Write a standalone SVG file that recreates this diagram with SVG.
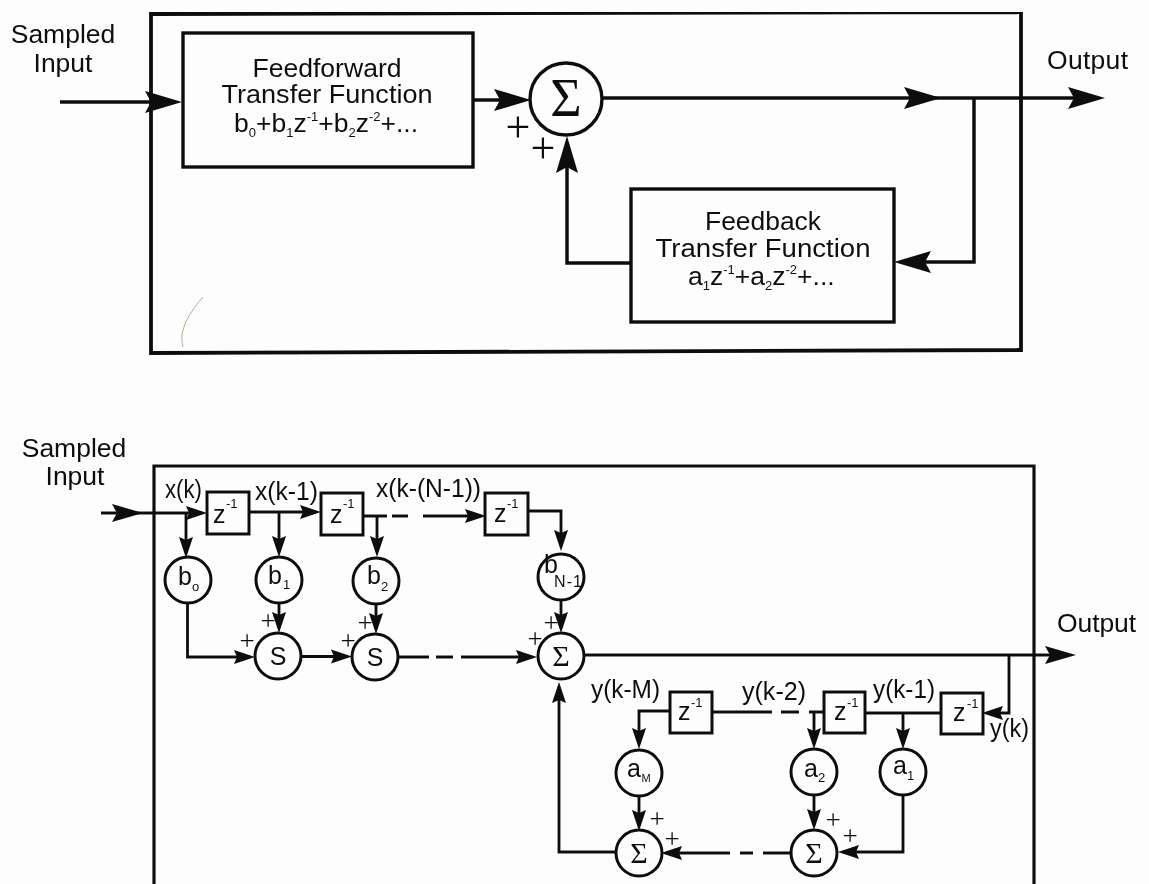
<svg xmlns="http://www.w3.org/2000/svg" width="1149" height="884" viewBox="0 0 1149 884">
<defs>
<style>
.bg{fill:#fdfdfd}
.t{font-family:"Liberation Sans",Arial,sans-serif;fill:#111}
.l{font-size:26.500px}.h{font-size:25px}.m{font-size:25px}.s{font-size:13px}.z{font-size:25px}.sup{font-size:13px}
.p{font-size:44px;font-family:"Liberation Serif","Times New Roman",serif}
.ps{font-size:27px;font-family:"Liberation Serif","Times New Roman",serif}
.sg{font-family:"Liberation Serif","Times New Roman",serif;fill:#111}
.c{text-anchor:middle}
.hb{fill:none;stroke:#111;stroke-width:3.800}
.nb{fill:#fdfdfd;stroke:#111;stroke-width:3.400}
.n2{fill:#fdfdfd;stroke:#111;stroke-width:3}
.w{fill:none;stroke:#111;stroke-width:3.500;stroke-linejoin:miter}
.w2{fill:none;stroke:#111;stroke-width:2.800;stroke-linejoin:miter}
.ah{fill:#0c0c0c}
</style>
<filter id="soft" x="0" y="0" width="100%" height="100%"><feGaussianBlur stdDeviation="0.450"/></filter>
<marker id="aL" markerUnits="userSpaceOnUse" markerWidth="38" markerHeight="24" viewBox="0 0 38 24" refX="30" refY="12" orient="auto"><path class="ah" d="M0,1 L37,12 L0,23 L6,12Z"/></marker>
<marker id="aB" markerUnits="userSpaceOnUse" markerWidth="32" markerHeight="20" viewBox="0 0 32 20" refX="24" refY="10" orient="auto"><path class="ah" d="M0,1 L31,10 L0,19 L5,10Z"/></marker>
<marker id="aM" markerUnits="userSpaceOnUse" markerWidth="23" markerHeight="16" viewBox="0 0 23 16" refX="16" refY="8" orient="auto"><path class="ah" d="M0,1 L21,8 L0,15 L3,8Z"/></marker>
</defs>
<rect class="bg" width="1149" height="884"/>
<g filter="url(#soft)">
<path d="M203,297 C190,312 178,330 183,347" fill="none" stroke="#b5a98a" stroke-width="1"/>

<g id="connectors">
<path class="hb" d="M151,14 L1021,12 L1021,350 L151,353Z"/>
<path class="w" d="M60,102 H175" marker-end="url(#aL)"/>
<path class="w" d="M473,100 H524" marker-end="url(#aL)"/>
<path class="w" d="M602,98 H934" marker-end="url(#aL)"/>
<path class="w" d="M925,98 H1098" marker-end="url(#aL)"/>
<path class="w" d="M974,98 V262 H901" marker-end="url(#aL)"/>
<path class="w" d="M631,263 H567 V143" marker-end="url(#aL)"/>

<path class="hb" style="stroke-width:3.200" d="M154,884 V466 H1034 V884"/>
<path class="w2" d="M101,513 H136" marker-end="url(#aB)"/>
<path class="w2" d="M130,513 H202" marker-end="url(#aM)"/>
<path class="w2" d="M249,512 H316" marker-end="url(#aM)"/>
<path class="w2" d="M363,516 H387 M392,516 H408 M423,516 H481" marker-end="url(#aM)"/>
<path class="w2" d="M528,511 H561 V546" marker-end="url(#aM)"/>
<path class="w2" d="M186,513 V553" marker-end="url(#aM)"/>
<path class="w2" d="M279,512 V552" marker-end="url(#aM)"/>
<path class="w2" d="M377,516 V552" marker-end="url(#aM)"/>
<path class="w2" d="M187.500,603 V657 H250" marker-end="url(#aM)"/>
<path class="w2" d="M279,603 V628" marker-end="url(#aM)"/>
<path class="w2" d="M376,604 V629" marker-end="url(#aM)"/>
<path class="w2" d="M561,600 V628" marker-end="url(#aM)"/>
<path class="w2" d="M301,656.500 H347" marker-end="url(#aM)"/>
<path class="w2" d="M398,657 H429 M436,657 H453 M461,657 H532" marker-end="url(#aM)"/>
<path class="w2" d="M584,655 H1069" marker-end="url(#aB)"/>
<path class="w2" d="M1009,655 V713 H987" marker-end="url(#aM)"/>
<path class="w2" d="M941,713 H865"/>
<path class="w2" d="M903,713 V744" marker-end="url(#aM)"/>
<path class="w2" d="M824,712 H809 M799,712 H781 M772,712 H712"/>
<path class="w2" d="M814,712 V744" marker-end="url(#aM)"/>
<path class="w2" d="M670,711 H639 V744" marker-end="url(#aM)"/>
<path class="w2" d="M639,796 V826" marker-end="url(#aM)"/>
<path class="w2" d="M814,795 V825" marker-end="url(#aM)"/>
<path class="w2" d="M903,794 V852 H843" marker-end="url(#aM)"/>
<path class="w2" d="M792,853 H763 M753,853 H740 M730,853 H666" marker-end="url(#aM)"/>
<path class="w2" d="M616,852 H559 V687" marker-end="url(#aM)"/>
</g>

<g id="node-feedforward">
<rect class="nb" x="183" y="33" width="290" height="134"/>
<text class="t h c" x="327" y="77" textLength="149" lengthAdjust="spacingAndGlyphs">Feedforward</text>
<text class="t h c" x="327" y="103" textLength="211" lengthAdjust="spacingAndGlyphs">Transfer Function</text>
<text class="t l" x="234" y="132">b<tspan class="s" dy="5">0</tspan><tspan dy="-5">+b</tspan><tspan class="s" dy="5">1</tspan><tspan dy="-5">z</tspan><tspan class="sup" dy="-11">-1</tspan><tspan dy="11">+b</tspan><tspan class="s" dy="5">2</tspan><tspan dy="-5">z</tspan><tspan class="sup" dy="-11">-2</tspan><tspan dy="11">+...</tspan></text>
</g>
<g id="node-feedback">
<rect class="nb" x="631" y="189" width="263" height="133"/>
<text class="t h c" x="763" y="230" textLength="116" lengthAdjust="spacingAndGlyphs">Feedback</text>
<text class="t h c" x="763" y="257" textLength="215" lengthAdjust="spacingAndGlyphs">Transfer Function</text>
<text class="t l" x="688" y="285">a<tspan class="s" dy="5">1</tspan><tspan dy="-5">z</tspan><tspan class="sup" dy="-11">-1</tspan><tspan dy="11">+a</tspan><tspan class="s" dy="5">2</tspan><tspan dy="-5">z</tspan><tspan class="sup" dy="-11">-2</tspan><tspan dy="11">+...</tspan></text>
</g>
<g id="node-sum-top">
<circle class="nb" cx="566" cy="99" r="36"/>
<text class="sg c" x="566" y="116" font-size="54">Σ</text>
</g>
<g id="labels-top">
<text class="t l c" x="63" y="43">Sampled</text>
<text class="t l c" x="63" y="72">Input</text>
<text class="t l" x="1047" y="69" textLength="81" lengthAdjust="spacing">Output</text>
<text class="t p c" x="518" y="142">+</text>
<text class="t p c" x="543" y="163">+</text>
</g>

<g id="node-z1"><rect class="n2" x="207" y="492" width="42" height="42"/><text class="t z" x="213" y="523">z</text><text class="t sup" x="226" y="508">-1</text></g>
<g id="node-z2"><rect class="n2" x="321" y="493" width="42" height="42"/><text class="t z" x="330" y="523">z</text><text class="t sup" x="343" y="508">-1</text></g>
<g id="node-z3"><rect class="n2" x="485" y="493" width="43" height="42"/><text class="t z" x="494" y="522">z</text><text class="t sup" x="507" y="508">-1</text></g>
<g id="node-b0"><circle class="n2" cx="188" cy="580" r="23"/><text class="t m" x="178" y="585">b</text><text class="t s" x="192" y="591">o</text></g>
<g id="node-b1"><circle class="n2" cx="279" cy="580" r="23"/><text class="t m" x="268" y="584">b</text><text class="t s" x="283" y="589">1</text></g>
<g id="node-b2"><circle class="n2" cx="376" cy="581" r="23"/><text class="t m" x="367" y="584">b</text><text class="t s" x="381" y="591">2</text></g>
<g id="node-bn"><circle class="n2" cx="561" cy="577" r="23"/><text class="t m" x="544" y="573">b</text><text class="t" font-size="16" x="554" y="587" textLength="28">N-1</text></g>
<g id="node-s1"><circle class="n2" cx="278" cy="656" r="23"/><text class="t c" font-size="25" x="278" y="665">S</text></g>
<g id="node-s2"><circle class="n2" cx="375" cy="657" r="23"/><text class="t c" font-size="25" x="375" y="666">S</text></g>
<g id="node-sum-mid"><circle class="n2" cx="561" cy="656" r="23"/><text class="sg c" font-size="30" x="561" y="666">Σ</text></g>
<g id="node-za"><rect class="n2" x="941" y="693" width="42" height="41"/><text class="t z" x="953" y="721">z</text><text class="t sup" x="967" y="708">-1</text></g>
<g id="node-zb"><rect class="n2" x="824" y="692" width="41" height="41"/><text class="t z" x="834" y="720">z</text><text class="t sup" x="847" y="707">-1</text></g>
<g id="node-zc"><rect class="n2" x="670" y="692" width="42" height="41"/><text class="t z" x="678" y="720">z</text><text class="t sup" x="691" y="707">-1</text></g>
<g id="node-a1"><circle class="n2" cx="903" cy="772" r="23"/><text class="t m" x="893" y="774">a</text><text class="t s" x="907" y="780">1</text></g>
<g id="node-a2"><circle class="n2" cx="814" cy="772" r="23"/><text class="t m" x="804" y="777">a</text><text class="t s" x="818" y="782">2</text></g>
<g id="node-am"><circle class="n2" cx="639" cy="773" r="23"/><text class="t m" x="627" y="777">a</text><text class="t" font-size="11" x="641.500" y="782">M</text></g>
<g id="node-sum-r"><circle class="n2" cx="814" cy="853" r="23"/><text class="sg c" font-size="30" x="814" y="863">Σ</text></g>
<g id="node-sum-l"><circle class="n2" cx="639" cy="853" r="23"/><text class="sg c" font-size="30" x="639" y="863">Σ</text></g>

<g id="labels-bottom">
<text class="t l c" x="74" y="457">Sampled</text>
<text class="t l c" x="75" y="485">Input</text>
<text class="t l" x="1057" y="632" textLength="79" lengthAdjust="spacing">Output</text>
<text class="t m" x="165" y="498" textLength="37" lengthAdjust="spacingAndGlyphs">x(k)</text>
<text class="t m" x="255" y="500" textLength="63" lengthAdjust="spacingAndGlyphs">x(k-1)</text>
<text class="t m" x="376" y="497" textLength="105" lengthAdjust="spacingAndGlyphs">x(k-(N-1))</text>
<text class="t m" x="591" y="698" textLength="69" lengthAdjust="spacingAndGlyphs">y(k-M)</text>
<text class="t m" x="742" y="700" textLength="64" lengthAdjust="spacingAndGlyphs">y(k-2)</text>
<text class="t m" x="873" y="698" textLength="62" lengthAdjust="spacingAndGlyphs">y(k-1)</text>
<text class="t m" x="990" y="737" textLength="39" lengthAdjust="spacingAndGlyphs">y(k)</text>
<text class="t ps c" x="268" y="630">+</text>
<text class="t ps c" x="247" y="650">+</text>
<text class="t ps c" x="365" y="632">+</text>
<text class="t ps c" x="348" y="650">+</text>
<text class="t ps c" x="551" y="632">+</text>
<text class="t ps c" x="535" y="648">+</text>
<text class="t ps c" x="657" y="828">+</text>
<text class="t ps c" x="672" y="848">+</text>
<text class="t ps c" x="833" y="829">+</text>
<text class="t ps c" x="850" y="845">+</text>
</g>
</g>
</svg>
